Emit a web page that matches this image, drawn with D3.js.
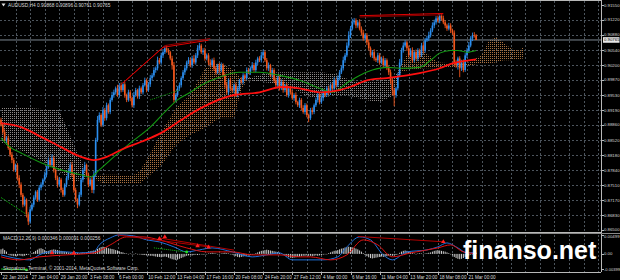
<!DOCTYPE html>
<html><head><meta charset="utf-8">
<script src="https://cdn.jsdelivr.net/npm/d3@7"></script>
<style>html,body{margin:0;padding:0;background:#000;overflow:hidden}svg{display:block}</style>
</head><body>
<svg id="c" width="620" height="280"></svg>
<script>
// ---------------- DATA ----------------
const symbolTitle = "AUDUSD,H4";
const lastOHLC = ["0.90868", "0.90896", "0.90761", "0.90765"];
const firstOpen = 0.8897;
const closes = [
0.8886,0.8870,0.8852,0.8857,0.8834,0.8819,0.8807,0.8785,0.8796,0.8767,
0.8752,0.8729,0.8707,0.8718,0.8685,0.8669,0.8696,0.8707,0.8723,0.8736,
0.8718,0.8745,0.8752,0.8763,0.8774,0.8790,0.8807,0.8796,0.8812,0.8785,
0.8767,0.8752,0.8763,0.8740,0.8729,0.8752,0.8767,0.8781,0.8796,0.8774,
0.8740,0.8718,0.8707,0.8729,0.8763,0.8785,0.8796,0.8774,0.8752,0.8763,
0.8740,0.8774,0.8852,0.8897,0.8908,0.8886,0.8919,0.8901,0.8930,0.8915,0.8942,
0.8953,0.8959,0.8968,0.8953,0.8975,0.8964,0.8977,
0.8953,0.8942,0.8959,0.8946,0.8930,0.8953,0.8964,0.8950,
0.8968,0.8959,0.8975,0.8986,0.8964,0.8977,0.8991,
0.8997,0.9009,0.9013,0.9031,0.9026,0.9042,0.9049,0.9058,0.9053,
0.9049,0.9035,0.9020,0.8942,
0.8953,0.8968,0.8975,0.8991,0.9004,0.9013,0.9026,0.9031,0.9020,0.9035,
0.9026,0.9042,0.9058,0.9064,0.9049,
0.9053,0.9035,0.9042,0.9026,0.9020,
0.9031,0.9013,0.9004,0.9020,0.9009,
0.9020,0.8997,0.8975,0.8959,0.8986,0.8968,
0.8964,0.8975,0.8953,0.8968,0.8986,0.8982,
0.8997,0.8991,0.9009,0.9004,0.9013,
0.9020,0.9009,0.9026,0.9035,0.9031,0.9042,0.9049,
0.9031,0.9013,0.9020,0.8997,0.9009,0.8986,0.8975,0.8991,0.8968,
0.8982,0.8964,0.8975,0.8953,0.8968,
0.8959,0.8946,0.8953,0.8937,0.8930,0.8942,
0.8924,0.8915,0.8930,0.8908,0.8901,0.8919,0.8915,0.8930,
0.8942,0.8953,0.8937,0.8946,0.8959,0.8953,0.8968,0.8959,
0.8975,0.8968,0.8986,0.8975,0.8991,0.9004,0.9013,
0.9031,0.9042,0.9064,0.9087,0.9102,0.9116,
0.9120,0.9109,0.9116,
0.9102,0.9093,0.9080,0.9087,0.9071,
0.9058,0.9042,0.9049,0.9035,
0.9031,0.9042,0.9026,0.9035,0.9020,0.9031,0.9013,0.9004,
0.8986,0.8964,0.8953,0.8968,
0.8997,0.9026,0.9053,0.9064,0.9071,
0.9058,0.9042,0.9053,0.9031,0.9049,0.9035,0.9053,
0.9042,0.9064,0.9053,0.9076,0.9080,
0.9087,0.9098,0.9109,0.9116,0.9125,0.9120,
0.9131,0.9125,0.9116,0.9109,
0.9102,0.9109,0.9098,0.9093,
0.9026,
0.9020,0.9035,0.9013,0.9026,0.9009,
0.9042,0.9053,0.9064,0.9080,0.9087,
0.90868,0.90765];
// wick lengths above / below the body, in pips (0.0001)
const wickUpPips = [
5,4,6,3,5,4,6,5,3,4,6,5,4,7,3,5,6,4,5,3,
4,6,5,3,7,4,6,5,8,4,3,5,6,4,5,3,4,6,5,7,
4,5,3,6,4,5,7,3,5,4,6,8,5,9,6,4,7,5,6,4,
5,7,6,4,8,5,6,4,5,3,6,5,4,7,5,3,6,4,5,6,
4,5,7,5,6,4,8,5,6,7,4,6,5,3,6,7,4,5,6,4,
5,6,4,7,5,6,8,5,7,6,4,5,6,4,5,7,4,6,5,3,
5,6,4,5,7,4,6,5,4,6,5,3,7,5,4,6,5,4,7,5,
6,4,5,8,6,4,5,6,3,5,4,6,5,4,6,5,3,5,4,6,
5,4,6,3,5,4,6,5,4,3,5,6,4,5,7,4,5,6,4,5,
6,4,5,7,4,6,5,6,8,5,7,9,6,8,6,5,4,7,5,6,
4,5,6,4,5,7,4,6,5,4,6,5,4,5,6,4,5,3,6,8,
6,7,5,4,6,5,7,4,6,5,4,6,7,5,6,8,5,7,6,5,
6,5,4,6,5,4,6,5,4,5,6,4,5,6,7,5,6,8,5,6,7,3];
const wickDnPips = [
4,5,3,6,4,5,7,4,5,6,8,5,6,4,7,8,5,4,6,5,
5,4,6,5,4,6,3,5,4,6,5,7,4,6,5,4,6,5,4,5,
6,5,8,4,5,6,4,5,6,4,7,8,5,4,6,5,4,6,5,4,
5,4,6,5,4,6,5,4,6,5,4,7,5,6,4,5,6,4,5,3,
5,4,6,5,4,6,5,4,5,6,4,5,6,4,10,6,5,4,6,5,
4,6,5,4,5,6,4,5,6,5,4,6,5,4,6,5,4,6,5,4,
6,5,4,7,5,6,4,5,6,4,5,6,4,5,6,5,4,6,5,4,
5,6,4,5,6,4,5,6,4,5,6,4,7,5,4,6,5,4,6,5,
4,6,5,4,6,5,4,6,5,9,4,6,5,4,6,5,4,6,5,4,
5,6,4,5,6,4,5,4,5,6,4,5,6,4,5,6,5,4,6,5,
4,6,5,4,6,5,4,6,5,4,6,5,4,6,8,12,25,6,5,4,
6,5,4,6,5,4,6,5,4,6,5,4,6,5,4,6,5,4,6,5,
4,6,5,4,6,5,4,6,5,8,6,10,20,6,5,4,6,5,4,6,5,0];

// moving averages (bar index, price)
const slowMaBars = [0,11,22,33,44,51,58,66,77,88,99,110,128,142,154,164,175,186,193,201,212,223,230,241,248,254,261];
const slowMa = [0.8890,0.8881,0.8859,0.8836,0.8814,0.8807,0.8814,0.8830,0.8848,0.8868,0.8897,0.8924,0.8953,0.8959,0.8971,0.8968,0.8959,0.8964,0.8973,0.8986,0.8991,0.8997,0.9002,0.9013,0.9024,0.9029,0.9033];
const fastMaBars = [0,5,11,22,33,44,49,54,60,71,82,91,97,104,110,120,131,142,153,164,175,182,190,197,204,212,219,230,236,241,247,251,256,261];
const fastMa = [0.8857,0.8836,0.8823,0.8801,0.8785,0.8774,0.8769,0.8785,0.8807,0.8845,0.8881,0.8919,0.8942,0.8959,0.8975,0.8993,0.9004,0.9004,0.8997,0.8986,0.8968,0.8959,0.8980,0.8997,0.9009,0.9015,0.9013,0.9015,0.9031,0.9047,0.9053,0.9053,0.9049,0.9053];

// Ichimoku cloud (bar index, Senkou span A, Senkou span B)
const cloudBars = [0,8,16,24,32,40,48,56,64,72,76,80,88,96,104,112,120,128,132,136,144,152,160,168,176,184,192,200,208,216,220,224,232,240,248,256,264,268,272,276,280,284,287];
const spanA = [0.8845,0.8834,0.8819,0.8801,0.8781,0.8758,0.8767,0.8774,0.8774,0.8772,0.8781,0.8807,0.8868,0.8924,0.8953,0.9013,0.9026,0.9009,0.8991,0.8986,0.8982,0.8977,0.8968,0.8950,0.8946,0.8953,0.8950,0.8942,0.8937,0.8953,0.9020,0.9053,0.9053,0.9026,0.9024,0.9024,0.9042,0.9076,0.9082,0.9071,0.9058,0.9053,0.9060];
const spanB = [0.8924,0.8924,0.8924,0.8921,0.8919,0.8841,0.8772,0.8754,0.8754,0.8754,0.8754,0.8767,0.8794,0.8841,0.8863,0.8879,0.8901,0.8901,0.8964,0.8991,0.9000,0.9004,0.9004,0.9004,0.9004,0.9000,0.8986,0.8982,0.8986,0.8991,0.9004,0.9009,0.9013,0.9013,0.9015,0.9018,0.9024,0.9024,0.9026,0.9031,0.9031,0.9033,0.9035];

// trend lines on the price chart: [bar, price] pairs
const channelRed = [[67,0.8980],[89,0.9060],[114,0.9076]];
const channelDark = [[65,0.8973],[90,0.9064],[115,0.9080]];
const topRed = [[197,0.9131],[243,0.9136]];
const topDark = [[197,0.9128],[243,0.9133]];
const greenDash = [[0,0.8723],[14,0.8685]];
const greenDot = [[82,0.8942],[98,0.8964]];

// MACD panel
const macdTitle = "MACD(12,26,9) 0.000346 0.000091 0.000256";
const macdBars = [0,7,16,21,27,36,43,51,54,60,65,73,80,87,95,102,109,116,127,138,146,153,160,168,177,185,190,197,203,210,215,223,234,240,245,251,256,261];
const macdMain = [-0.00026,-0.00106,-0.00158,-0.00026,0.00053,0.00053,0.00026,0.00053,0.00238,0.00422,0.00502,0.00475,0.0037,0.00317,0.00185,0.00053,0.00106,0.00158,0.00053,-0.00079,-0.00026,0.00026,-0.00158,-0.00158,-0.00158,-0.00079,0.00185,0.00449,0.0037,-0.00026,-0.00158,0.00053,0.00106,0.00185,0.0029,0.00158,0.00026,0.000346];
const signalBars = [0,10,21,36,51,60,69,78,87,102,113,127,138,153,164,170,181,190,199,207,215,225,240,247,254,261];
const macdSignal = [-0.00079,-0.00158,-0.00079,-0.00026,0.00026,0.00238,0.00449,0.00449,0.0037,0.00158,0.00053,0.00053,-0.00026,-0.00026,-0.00079,-0.00079,-0.00158,-0.00026,0.0037,0.00238,-0.00079,0.00026,0.00158,0.00238,0.00053,0.000091];
// histogram, one value per bar, in 0.0001
const histo = [
12,14,10,6,
-2,-4,-5,-6,-6,-5,-4,-5,-6,-5,-3,-2,-1,
2,5,8,11,14,15,13,10,7,
8,10,11,12,11,10,9,8,7,6,5,
4,3,4,5,4,3,2,3,4,3,4,
6,7,8,9,10,
13,16,18,19,18,17,15,14,13,12,
10,9,7,5,4,2,
1,0,1,-1,0,1,0,-1,-2,-3,
-3,-4,-4,-5,-5,-6,
-7,-8,-8,-9,-8,-7,-8,-10,-12,-14,
-15,-16,-15,-13,-11,-9,-7,-5,
-4,-3,-4,-3,-2,-3,-2,-1,-2,-1,0,
1,2,3,2,1,0,-1,1,2,3,2,1,0,-2,
-4,-6,-8,-9,-8,-7,-6,-5,-4,-3,-2,0,2,4,
6,8,9,10,11,10,9,8,7,6,5,3,1,-1,
-4,-7,-9,-10,-11,-10,-9,-8,-7,-6,-5,-5,-4,-5,
-5,-6,-5,-4,-5,-4,-3,-2,-1,0,2,4,
6,8,9,10,12,14,15,
17,18,19,18,17,16,14,12,9,6,2,
-3,-6,-9,-11,-12,-11,-10,-9,
-8,-7,-8,-7,-6,-5,-4,-5,-4,-3,-1,
3,6,8,9,8,6,4,
2,1,0,1,2,1,0,1,2,3,4,
6,8,9,10,9,8,7,6,4,2,0,
-4,-8,-11,-13,-14,-13,-11,-8,-6,
-4,-2,0,2,3];
const macdLinesDark = [[[64,0.0050],[115,0.0018]],[[87,0.0042],[128,0.0010]],[[196,0.0046],[243,0.0032]]];
const macdGreenDot = [[84,0.0016],[102,0.0005]];
const macdGreenLine = [[0,-0.0040],[14,-0.0042]];
const macdRedMarks = [[28,0.00026],[40,0.00026],[87,0.0040],[90,0.0045],[108,0.0021],[114,0.0018],[243,0.0032]];
const macdGreenMarks = [[102,0.0005],[14,-0.0042]];

// axes
const priceTicks = [0.91550,0.91220,0.90880,0.90540,0.90200,0.89870,0.89530,0.89190,0.88860,0.88520,0.88180,0.87840,0.87510,0.87170,0.86830,0.86500];
const macdTicks = [0.00499,0.0,-0.00399];
const macdTickLabels = ["0.00499","0.00","-0.00399"];
const dateLabels = ["22 Jan 2014","27 Jan 04:00","29 Jan 20:00","3 Feb 08:00","6 Feb 00:00","10 Feb 12:00","13 Feb 04:00","17 Feb 16:00","20 Feb 08:00","24 Feb 20:00","27 Feb 12:00","4 Mar 00:00","6 Mar 16:00","11 Mar 04:00","13 Mar 20:00","18 Mar 08:00","21 Mar 00:00"];
const dateLabelBars = dateLabels.map((d,i)=>i*16);
const copyright = "Skopalnos_Terminal, © 2001-2014, MetaQuotes Software Corp.";
const watermark = "finanso.net";

// ---------------- DRAW ----------------
const svg = d3.select('#c');
const AX = 601, MAINB = 232, MT = 234, MB = 272;
const x = d3.scaleLinear().domain([0,256]).range([1,467]);
const y = d3.scaleLinear().domain([0.8650,0.9155]).range([230,5]);
const ym = d3.scaleLinear().domain([-0.00399,0.00499]).range([269,235]);
const FONT = "'Liberation Sans', Arial, sans-serif";
const txtCol = "#d8d8d8";
const AXF = 4.3;

svg.append('rect').attr('width',620).attr('height',280).attr('fill','#000');
const defs = svg.append('defs');
defs.append('clipPath').attr('id','cm').append('rect').attr('x',0).attr('y',0).attr('width',AX).attr('height',MAINB);
defs.append('clipPath').attr('id','cmacd').append('rect').attr('x',0).attr('y',MT).attr('width',AX).attr('height',MB-MT);
function pat(id,color){
  const p = defs.append('pattern').attr('id',id).attr('patternUnits','userSpaceOnUse').attr('width',2).attr('height',2);
  p.append('rect').attr('x',0).attr('y',0).attr('width',1).attr('height',1).attr('fill',color);
}
pat('tan','#a7703f'); pat('grey','#8e8886');

// grid
const grid = svg.append('g').attr('stroke','#4c545c').attr('stroke-width',1).attr('stroke-dasharray','2,2');
const gridBars = d3.range(8, 340, 8).filter(b => x(b) < AX-2);
grid.selectAll('.gv').data(gridBars).join('line')
  .attr('x1',d=>Math.round(x(d))+0.5).attr('x2',d=>Math.round(x(d))+0.5).attr('y1',1).attr('y2',MAINB);
grid.selectAll('.gv2').data(gridBars).join('line')
  .attr('x1',d=>Math.round(x(d))+0.5).attr('x2',d=>Math.round(x(d))+0.5).attr('y1',MT+1).attr('y2',MB);
grid.selectAll('.gh').data(priceTicks.slice(1,-1)).join('line')
  .attr('x1',0).attr('x2',AX).attr('y1',d=>Math.round(y(d))+0.5).attr('y2',d=>Math.round(y(d))+0.5);

// cloud
const main = svg.append('g').attr('clip-path','url(#cm)');
const cd = cloudBars.map((b,i)=>({b, a:spanA[i], s:spanB[i]}));
main.append('path').datum(cd).attr('fill','url(#tan)')
  .attr('d', d3.area().x(d=>x(d.b)).y0(d=>y(d.s)).y1(d=>y(Math.max(d.a,d.s))));
main.append('path').datum(cd).attr('fill','url(#grey)')
  .attr('d', d3.area().x(d=>x(d.b)).y0(d=>y(d.a)).y1(d=>y(Math.max(d.a,d.s))));

// bid line
main.append('line').attr('x1',0).attr('x2',AX).attr('y1',y(+lastOHLC[3])).attr('y2',y(+lastOHLC[3]))
  .attr('stroke','#7c8690').attr('stroke-width',1);

// candles
const bars = closes.map((c,i)=>{
  const o = i===0 ? firstOpen : closes[i-1];
  return {i, o, c, h: Math.max(o,c)+wickUpPips[i]*1e-4, l: Math.min(o,c)-wickDnPips[i]*1e-4};
});
const bull = '#2b8ff0', bear = '#f2561c';
main.selectAll('.wk').data(bars).join('line')
  .attr('x1',d=>x(d.i)).attr('x2',d=>x(d.i)).attr('y1',d=>y(d.h)).attr('y2',d=>y(d.l))
  .attr('stroke',d=>d.c>=d.o?bull:bear).attr('stroke-width',0.9);
main.selectAll('.bd').data(bars).join('rect')
  .attr('x',d=>x(d.i)-0.8).attr('width',1.6)
  .attr('y',d=>y(Math.max(d.o,d.c))).attr('height',d=>Math.max(0.6, Math.abs(y(d.o)-y(d.c))))
  .attr('fill',d=>d.c>=d.o?bull:bear);

// moving averages
const line = d3.line().curve(d3.curveMonotoneX);
main.append('path').attr('fill','none').attr('stroke','#139a13').attr('stroke-width',1.1)
  .attr('d', line(fastMaBars.map((b,i)=>[x(b), y(fastMa[i])])));
main.append('path').attr('fill','none').attr('stroke','#ff1010').attr('stroke-width',1.8)
  .attr('d', line(slowMaBars.map((b,i)=>[x(b), y(slowMa[i])])));

// trend lines
const pl = d3.line().x(d=>x(d[0])).y(d=>y(d[1]));
main.append('path').attr('fill','none').attr('stroke','#8e0000').attr('stroke-width',1).attr('d',pl(channelDark));
main.append('path').attr('fill','none').attr('stroke','#e00000').attr('stroke-width',1).attr('d',pl(channelRed));
main.append('path').attr('fill','none').attr('stroke','#8e0000').attr('stroke-width',1).attr('d',pl(topDark));
main.append('path').attr('fill','none').attr('stroke','#e00000').attr('stroke-width',1).attr('d',pl(topRed));
main.append('path').attr('fill','none').attr('stroke','#0c9a0c').attr('stroke-width',1).attr('stroke-dasharray','2,1').attr('d',pl(greenDash));
main.append('path').attr('fill','none').attr('stroke','#0c9a0c').attr('stroke-width',1).attr('stroke-dasharray','1,1').attr('d',pl(greenDot));

// MACD panel
const mg = svg.append('g').attr('clip-path','url(#cmacd)');
mg.selectAll('.hb').data(histo).join('rect')
  .attr('x',(d,i)=>x(i)-0.5).attr('width',1)
  .attr('y',d=>Math.min(ym(0), ym(d*1e-4))).attr('height',d=>Math.max(0.5, Math.abs(ym(d*1e-4)-ym(0))))
  .attr('fill','#cfcfcf');
const ml = d3.line().curve(d3.curveMonotoneX);
mg.append('path').attr('fill','none').attr('stroke','#1f6fd8').attr('stroke-width',1)
  .attr('d', ml(macdBars.map((b,i)=>[x(b), ym(macdMain[i])])));
mg.append('path').attr('fill','none').attr('stroke','#e01010').attr('stroke-width',1)
  .attr('d', ml(signalBars.map((b,i)=>[x(b), ym(macdSignal[i])])));
const mpl = d3.line().x(d=>x(d[0])).y(d=>ym(d[1]));
macdLinesDark.forEach(L=>mg.append('path').attr('fill','none').attr('stroke','#b00000').attr('stroke-width',1).attr('d',mpl(L)));
mg.append('path').attr('fill','none').attr('stroke','#10c010').attr('stroke-width',1).attr('stroke-dasharray','1,1').attr('d',mpl(macdGreenDot));
mg.append('path').attr('fill','none').attr('stroke','#10c010').attr('stroke-width',1).attr('d',mpl(macdGreenLine));
const sym = d3.symbol(d3.symbolTriangle).size(9);
mg.selectAll('.rm').data(macdRedMarks).join('path').attr('d',sym)
  .attr('transform',d=>`translate(${x(d[0])},${ym(d[1])})`).attr('fill','#ff2020');
mg.selectAll('.gm').data(macdGreenMarks).join('circle')
  .attr('cx',d=>x(d[0])).attr('cy',d=>ym(d[1])).attr('r',1.4).attr('fill','#20e020');

// frame
const fr = svg.append('g').attr('stroke','#b8b8b8').attr('stroke-width',1).attr('fill','none');
fr.append('line').attr('x1',0).attr('x2',AX).attr('y1',0.5).attr('y2',0.5);
fr.append('line').attr('x1',AX+0.5).attr('x2',AX+0.5).attr('y1',0).attr('y2',MB);
fr.append('line').attr('x1',0).attr('x2',AX).attr('y1',MAINB+0.5).attr('y2',MAINB+0.5);
fr.append('line').attr('x1',0).attr('x2',620).attr('y1',MT-0.5).attr('y2',MT-0.5).attr('stroke','#888');
fr.append('line').attr('x1',0).attr('x2',AX).attr('y1',MB+0.5).attr('y2',MB+0.5);

// watermark
svg.append('text').attr('x',463).attr('y',259).attr('font-family',FONT)
  .attr('font-weight','bold').attr('font-size',25).attr('fill','#ffffff').text(watermark);

// price axis
const pa = svg.append('g');
pa.selectAll('.pt').data(priceTicks).join('line')
  .attr('x1',AX).attr('x2',AX+3).attr('y1',d=>Math.round(y(d))+0.5).attr('y2',d=>Math.round(y(d))+0.5).attr('stroke','#b8b8b8');
pa.selectAll('.pl').data(priceTicks).join('text')
  .attr('x',AX+3).attr('y',(d,i)=>y(d)+(i===priceTicks.length-1?0.6:1.5)).text(d=>d.toFixed(5))
  .attr('font-family',FONT).attr('font-size',AXF).attr('fill',txtCol);
const bidY = y(+lastOHLC[3]);
pa.append('rect').attr('x',AX+2).attr('y',bidY-2.8).attr('width',16.5).attr('height',5.6).attr('fill','#e8e8e8');
pa.append('text').attr('x',AX+3).attr('y',bidY+1.5).text(lastOHLC[3])
  .attr('font-family',FONT).attr('font-size',AXF).attr('fill','#000');
// macd axis
pa.selectAll('.mt').data(macdTicks).join('text')
  .attr('x',AX+3).attr('y',(d,i)=>ym(d)+(i===0?2.6:1.5)).text((d,i)=>macdTickLabels[i])
  .attr('font-family',FONT).attr('font-size',AXF).attr('fill',txtCol)
  .attr('textLength',(d,i)=>i===2?16:null).attr('lengthAdjust','spacingAndGlyphs');
pa.selectAll('.mtk').data(macdTicks).join('line')
  .attr('x1',AX).attr('x2',AX+3).attr('y1',d=>Math.round(ym(d))+0.5).attr('y2',d=>Math.round(ym(d))+0.5).attr('stroke','#b8b8b8');

// date axis
const da = svg.append('g');
da.selectAll('.dt').data(dateLabelBars).join('line')
  .attr('x1',d=>Math.round(x(d))+0.5).attr('x2',d=>Math.round(x(d))+0.5).attr('y1',MB).attr('y2',MB+3).attr('stroke','#b8b8b8');
da.selectAll('.dl').data(dateLabels).join('text')
  .attr('x',(d,i)=>x(dateLabelBars[i])+1.5).attr('y',278.5).text(d=>d)
  .attr('font-family',FONT).attr('font-size',4.6).attr('fill',txtCol);

// titles
svg.append('path').attr('d','M1.5,3.5 L5.5,3.5 L3.5,6.5 Z').attr('fill','#e0e0e0');
svg.append('text').attr('x',8).attr('y',7).attr('font-family',FONT).attr('font-size',4.8).attr('fill',txtCol)
  .text(symbolTitle + "  " + lastOHLC.join(" "));
svg.append('text').attr('x',3).attr('y',240).attr('font-family',FONT).attr('font-size',4.8).attr('fill',txtCol).text(macdTitle);
svg.append('text').attr('x',3).attr('y',270).attr('font-family',FONT).attr('font-size',4.8).attr('fill',txtCol).text(copyright);
</script>
</body></html>
